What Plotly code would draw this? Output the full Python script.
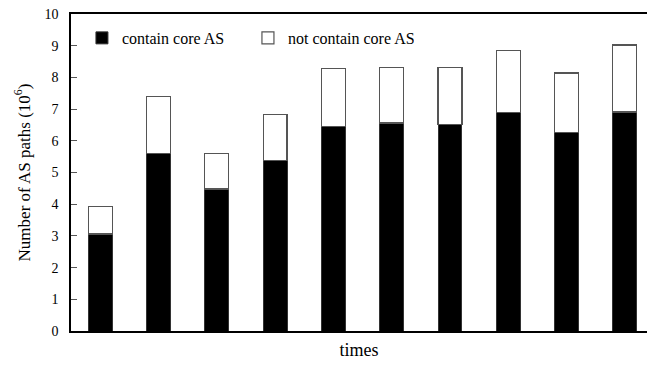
import plotly.graph_objects as go

categories = ["1", "2", "3", "4", "5", "6", "7", "8", "9", "10"]
contain_core = [3.06, 5.61, 4.48, 5.39, 6.46, 6.56, 6.52, 6.89, 6.26, 6.91]
not_contain_core = [0.87, 1.79, 1.12, 1.44, 1.83, 1.76, 1.80, 1.96, 1.88, 2.11]
y_ticks = [0, 1, 2, 3, 4, 5, 6, 7, 8, 9, 10]

SERIF = "Liberation Serif"

fig = go.Figure()
fig.add_trace(go.Bar(
    x=categories, y=contain_core, name="contain core AS",
    marker=dict(color="black", line=dict(color="#333", width=1)),
    width=0.41,
))
fig.add_trace(go.Bar(
    x=categories, y=not_contain_core, name="not contain core AS",
    marker=dict(color="white", line=dict(color="#555", width=1.2)),
    width=0.41,
))

fig.update_layout(
    barmode="stack",
    width=647, height=368,
    margin=dict(l=71, r=0, t=14, b=37),
    plot_bgcolor="white", paper_bgcolor="white",
    font=dict(family=SERIF, size=14, color="black"),
    showlegend=True,
    legend=dict(
        orientation="h", x=0.019, y=0.978, xanchor="left", yanchor="top",
        font=dict(family=SERIF, size=16, color="black"),
        bgcolor="rgba(0,0,0,0)", traceorder="normal",
        itemwidth=30, entrywidth=121,
    ),
    xaxis=dict(
        range=[-0.5, 9.38], showticklabels=False, ticks="",
        showline=True, linecolor="black", linewidth=1.5, mirror=True,
        showgrid=False, zeroline=False,
        title=dict(text="times", font=dict(family=SERIF, size=18, color="black"), standoff=12),
    ),
    yaxis=dict(
        range=[0, 10], tickvals=y_ticks, ticks="inside", ticklen=6,
        tickcolor="#555", showline=True, linecolor="black", linewidth=1.5,
        showgrid=False, zeroline=False,
        tickfont=dict(family=SERIF, size=14, color="black"),
        ticklabelstandoff=8,
        title=dict(text="Number of AS paths (10<sup>6</sup>)",
                   font=dict(family=SERIF, size=17, color="black"), standoff=10),
    ),
)

fig.write_html("out.html", config={"displayModeBar": False},
               post_script="document.body.style.margin='0px';")
